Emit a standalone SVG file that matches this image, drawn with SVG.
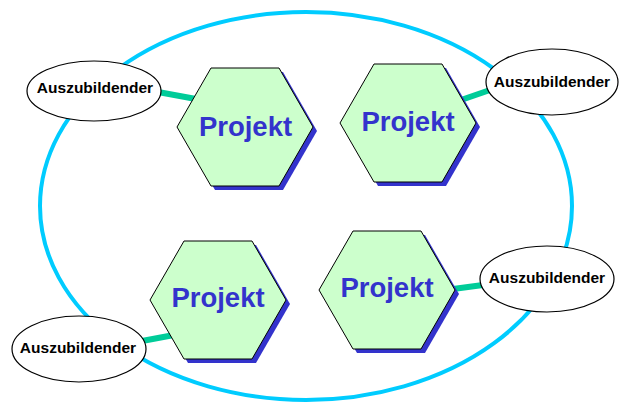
<svg xmlns="http://www.w3.org/2000/svg" width="621" height="403" viewBox="0 0 621 403">
  <style>
    .ring { fill: none; stroke: #00ccff; stroke-width: 4; }
    .hex { fill: #ccffcc; stroke: #000000; stroke-width: 1; stroke-linejoin: miter; }
    .hex-shadow { fill: #3333cc; stroke: none; }
    .hex-label { font-family: "Liberation Sans", Arial, sans-serif; font-weight: bold; font-size: 27.5px; fill: #3333cc; text-anchor: middle; }
    .person { fill: #ffffff; stroke: #000000; stroke-width: 1.2; }
    .person-label { font-family: "Liberation Sans", Arial, sans-serif; font-weight: bold; font-size: 15.5px; fill: #000000; text-anchor: middle; }
    .link { stroke: #00cc99; stroke-width: 6; stroke-linecap: butt; }
  </style>
  <defs>
    <!-- hexagon centred at 0,0 -->
    <polygon id="hexShape" points="-68,0 -34,-59 34,-59 68,0 34,59 -34,59"/>
  </defs>
  <rect width="621" height="403" fill="#ffffff"/>

  <!-- surrounding ring -->
  <ellipse class="ring" cx="306" cy="206" rx="266" ry="194"/>

  <!-- connectors -->
  <g id="connectors">
    <line class="link" x1="158" y1="92" x2="196" y2="99"/>
    <line class="link" x1="461" y1="100" x2="490" y2="90"/>
    <line class="link" x1="142" y1="341" x2="174" y2="335"/>
    <line class="link" x1="453" y1="289" x2="483" y2="285"/>
  </g>

  <!-- projects -->
  <g id="projekt-1">
    <use href="#hexShape" class="hex-shadow" transform="translate(249,131)"/>
    <use href="#hexShape" class="hex" transform="translate(245,127)"/>
    <text class="hex-label" x="245.5" y="136">Projekt</text>
  </g>
  <g id="projekt-2">
    <use href="#hexShape" class="hex-shadow" transform="translate(412,127)"/>
    <use href="#hexShape" class="hex" transform="translate(408,123)"/>
    <text class="hex-label" x="408" y="131">Projekt</text>
  </g>
  <g id="projekt-3">
    <use href="#hexShape" class="hex-shadow" transform="translate(222,304)"/>
    <use href="#hexShape" class="hex" transform="translate(218,300)"/>
    <text class="hex-label" x="218" y="307">Projekt</text>
  </g>
  <g id="projekt-4">
    <use href="#hexShape" class="hex-shadow" transform="translate(391,294)"/>
    <use href="#hexShape" class="hex" transform="translate(387,290)"/>
    <text class="hex-label" x="387" y="297">Projekt</text>
  </g>

  <!-- trainees -->
  <g id="azubi-1">
    <ellipse class="person" cx="94" cy="91" rx="67" ry="30"/>
    <text class="person-label" x="95" y="93">Auszubildender</text>
  </g>
  <g id="azubi-2">
    <ellipse class="person" cx="552" cy="82" rx="66" ry="33"/>
    <text class="person-label" x="552" y="87">Auszubildender</text>
  </g>
  <g id="azubi-3">
    <ellipse class="person" cx="79" cy="349" rx="67" ry="33"/>
    <text class="person-label" x="78" y="353">Auszubildender</text>
  </g>
  <g id="azubi-4">
    <ellipse class="person" cx="547" cy="279" rx="67" ry="33"/>
    <text class="person-label" x="547" y="283">Auszubildender</text>
  </g>
</svg>
